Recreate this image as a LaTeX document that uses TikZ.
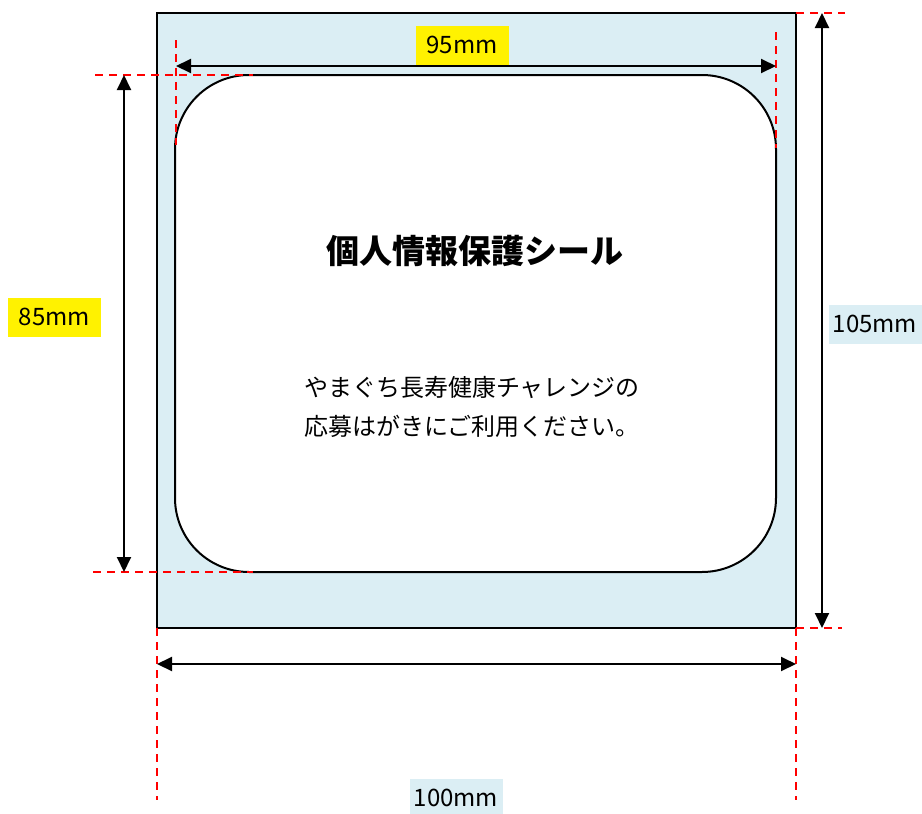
\documentclass[tikz,border=0pt]{standalone}
\usepackage{fontspec}
\setmainfont{Noto Sans CJK JP}
\usetikzlibrary{arrows.meta}
\definecolor{sheetblue}{RGB}{219,238,244}

\begin{document}
\begin{tikzpicture}[x = 1pt, y = -1pt, line width = 2pt,
	>={Triangle[length=15pt, width=14pt]},
	guide/.style = {red, dash pattern = on 8pt off 6pt, line width = 1.6pt},
	dimlabel/.style = {inner sep = 0pt, minimum width = 93pt, minimum height = 39pt, font = \fontsize{24}{24}\selectfont}]
	\useasboundingbox (0,0) rectangle (922,814);

	\draw[fill = sheetblue] (157,13) rectangle (796,628);
	\draw[fill = white, rounded corners = 74pt] (175,75) rectangle (776,572);

	\node[font = \bfseries\fontsize{33}{33}\selectfont] (title) at (475,251) {個人情報保護シール};
	\node[font = \fontsize{24}{39}\selectfont, align = center] (note) at (472,407) {やまぐち長寿健康チャレンジの\\応募はがきにご利用ください。};

	\draw[guide] (176,40) -- (176,145);
	\draw[guide] (776,32) -- (776,148);
	\draw[guide] (95,75) -- (253,75);
	\draw[guide] (93,572) -- (253,572);
	\draw[guide] (796,13) -- (845,13);
	\draw[guide] (796,628) -- (842,628);
	\draw[guide] (157,628) -- (157,800);
	\draw[guide] (796,628) -- (796,800);

	\coordinate (w95L) at (176,66);
	\coordinate (w95R) at (776,66);
	\coordinate (h85T) at (124,75);
	\coordinate (h85B) at (124,572);
	\coordinate (h105T) at (822,13);
	\coordinate (h105B) at (822,628);
	\coordinate (w100L) at (157,664);
	\coordinate (w100R) at (796,664);

	\draw[<->] (w95L) -- (w95R);
	\draw[<->] (h85T) -- (h85B);
	\draw[<->] (h105T) -- (h105B);
	\draw[<->] (w100L) -- (w100R);

	\node[dimlabel, fill = yellow] (lab95) at (462,45) {95mm};
	\node[dimlabel, fill = yellow] (lab85) at (54.5,317) {85mm};
	\node[dimlabel, fill = sheetblue] (lab105) at (875,324) {105mm};
	\node[dimlabel, fill = sheetblue] (lab100) at (456,798) {100mm};
\end{tikzpicture}
\end{document}
